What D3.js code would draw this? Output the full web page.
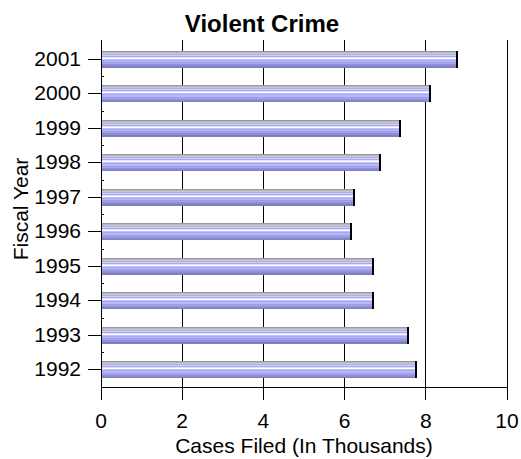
<!DOCTYPE html>
<html>
<head>
<meta charset="utf-8">
<script src="https://cdn.jsdelivr.net/npm/d3@7"></script>
<style>
  body { margin: 0; background: #fff; }
  text { font-family: Arial, "Liberation Sans", sans-serif; fill: #000; }
</style>
</head>
<body>
<svg width="521" height="459"></svg>
<script>
var years = ["1992", "1993", "1994", "1995", "1996", "1997", "1998", "1999", "2000", "2001"];
var cases = [7.79, 7.59, 6.72, 6.72, 6.18, 6.25, 6.90, 7.39, 8.13, 8.79];
var xTicks = [0, 2, 4, 6, 8, 10];

var svg = d3.select("svg");
var plotLeft = 101, plotRight = 507, plotTop = 40, plotBottom = 387;

var x = d3.scaleLinear().domain([0, 10]).range([plotLeft, plotRight]);
var y = d3.scaleBand().domain(years).range([plotBottom, plotTop + 2]).paddingInner(0.5).paddingOuter(0.25);

// striped fill for the bars
var stripes = [
  [0, "#9a9a9a"], [0.06, "#b8b8b8"], [0.12, "#c8c8d4"], [0.18, "#b0b0e8"],
  [0.24, "#d0d0f8"], [0.30, "#a8a8f0"], [0.36, "#e0e0ff"], [0.42, "#ffffff"],
  [0.48, "#c0c0ff"], [0.54, "#a8a8f0"], [0.60, "#b8b8f8"], [0.66, "#9c9ce8"],
  [0.72, "#a4a4e8"], [0.78, "#9090d8"], [0.84, "#8c8cd0"], [0.90, "#8080c0"],
  [1, "#707094"]
];
var grad = svg.append("defs").append("linearGradient")
  .attr("id", "barfill").attr("x1", 0).attr("x2", 0).attr("y1", 0).attr("y2", 1);
stripes.forEach(function (s, i) {
  grad.append("stop").attr("offset", s[0]).attr("stop-color", s[1]);
  if (i < stripes.length - 1)
    grad.append("stop").attr("offset", stripes[i + 1][0]).attr("stop-color", s[1]);
});

// grid lines (extend below the axis as ticks)
svg.append("g").selectAll("line")
  .data(xTicks)
  .enter().append("line")
  .attr("x1", function (d) { return x(d); })
  .attr("x2", function (d) { return x(d); })
  .attr("y1", plotTop)
  .attr("y2", plotBottom + 13)
  .attr("stroke", "#000")
  .attr("stroke-width", 1)
  .attr("shape-rendering", "crispEdges");

// bottom axis line
svg.append("line")
  .attr("x1", x(0)).attr("x2", x(10))
  .attr("y1", plotBottom).attr("y2", plotBottom)
  .attr("stroke", "#000")
  .attr("shape-rendering", "crispEdges");

// minor ticks between bands
svg.append("g").selectAll("line")
  .data(years.slice(0, -1))
  .enter().append("line")
  .attr("x1", plotLeft).attr("x2", plotLeft + 3)
  .attr("y1", function (d) { return y(d) - y.step() * 0.25; })
  .attr("y2", function (d) { return y(d) - y.step() * 0.25; })
  .attr("stroke", "#000")
  .attr("shape-rendering", "crispEdges");

// bars
var bar = svg.append("g").selectAll("g")
  .data(years)
  .enter().append("g");

bar.append("rect")
  .attr("x", x(0))
  .attr("y", function (d) { return y(d); })
  .attr("width", function (d, i) { return x(cases[i]) - x(0); })
  .attr("height", y.bandwidth())
  .attr("fill", "url(#barfill)")
  .attr("shape-rendering", "crispEdges");

bar.append("rect")
  .attr("x", function (d, i) { return x(cases[i]) - 2; })
  .attr("y", function (d) { return y(d); })
  .attr("width", 2)
  .attr("height", y.bandwidth())
  .attr("fill", "#000")
  .attr("shape-rendering", "crispEdges");

// y axis
var yAxis = svg.append("g")
  .attr("transform", "translate(" + plotLeft + ",0)")
  .call(d3.axisLeft(y).tickSize(13).tickPadding(7));
yAxis.select(".domain").remove();
yAxis.selectAll(".tick line").attr("stroke", "#000").attr("shape-rendering", "crispEdges");
yAxis.selectAll("text")
  .attr("font-family", "Arial, 'Liberation Sans', sans-serif")
  .attr("font-size", 21);
svg.append("line")
  .attr("x1", plotLeft).attr("x2", plotLeft)
  .attr("y1", plotTop).attr("y2", plotBottom + 13)
  .attr("stroke", "#000")
  .attr("shape-rendering", "crispEdges");

// x tick labels
svg.append("g").selectAll("text")
  .data(xTicks)
  .enter().append("text")
  .attr("x", function (d) { return x(d); })
  .attr("y", 428)
  .attr("text-anchor", "middle")
  .style("font-size", "21px")
  .text(function (d) { return d; });

svg.append("text")
  .attr("x", 304).attr("y", 453)
  .attr("text-anchor", "middle")
  .style("font-size", "21px")
  .text("Cases Filed (In Thousands)");

svg.append("text")
  .attr("transform", "translate(28,209) rotate(-90)")
  .attr("text-anchor", "middle")
  .style("font-size", "21px")
  .text("Fiscal Year");

svg.append("text")
  .attr("x", 262).attr("y", 32)
  .attr("text-anchor", "middle")
  .style("font-size", "24px")
  .style("font-weight", "bold")
  .text("Violent Crime");
</script>
</body>
</html>
